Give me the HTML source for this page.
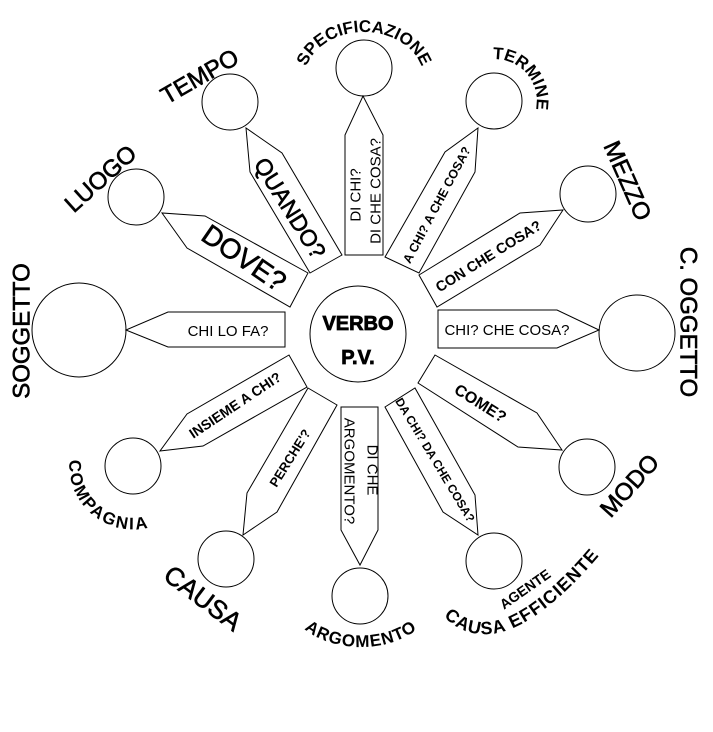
<!DOCTYPE html>
<html><head><meta charset="utf-8"><style>
html,body{margin:0;padding:0;background:#fff;}
svg{display:block;}
text{font-family:"Liberation Sans",sans-serif;fill:#000;}
</style></head><body>
<svg width="713" height="732" viewBox="0 0 713 732" xmlns="http://www.w3.org/2000/svg">
<defs>
<path id="pSpec" d="M 304 80 A 60 48 0 0 1 424 80"/>
<path id="pTerm" d="M 486 60 A 42 42 0 0 1 534 116"/>
<path id="pComp" d="M 73 444 A 64 64 0 0 0 165 521"/>
<path id="pArg" d="M 288 598 A 73 49 0 0 0 434 598"/>
<path id="pCE" d="M 434 605 Q 492 684 604 550"/>
</defs>
<g fill="#fff" stroke="#000" stroke-width="1">
<circle cx="358" cy="334" r="48"/>
<circle cx="364" cy="68" r="28"/>
<circle cx="230" cy="102" r="28"/>
<circle cx="494" cy="101" r="28"/>
<circle cx="136" cy="197" r="28"/>
<circle cx="588" cy="194" r="28"/>
<circle cx="79" cy="330" r="47"/>
<circle cx="637" cy="333" r="38"/>
<circle cx="133" cy="466" r="28"/>
<circle cx="587" cy="467" r="28"/>
<circle cx="226" cy="559" r="28"/>
<circle cx="360" cy="596" r="28"/>
<circle cx="494" cy="561" r="28"/>
<polygon points="345,255 345,135 363,96 383,135 383,255"/>
<polygon points="385,257 445,152 478,128 475,172 419,273"/>
<polygon points="419,275 520,213 563,210 540,245 437,307"/>
<polygon points="438,310 557,310 599,330 557,348 438,348"/>
<polygon points="285,312 168,312 126,330 168,347 285,347"/>
<polygon points="342,255 282,153 246,128 250,172 310,273"/>
<polygon points="308,273 205,216 162,213 187,248 290,307"/>
<polygon points="289,355 187,414 160,451 203,446 307,387"/>
<polygon points="308,388 247,493 243,535 277,512 337,405"/>
<polygon points="341,407 378,407 378,530 360,565 341,530"/>
<polygon points="385,407 415,388 475,495 478,535 443,512"/>
<polygon points="435,355 537,413 562,450 518,447 418,383"/>
</g>
<text x="358" y="330" font-size="20" font-weight="bold" text-anchor="middle" stroke="#000" stroke-width="0.8">VERBO</text>
<text x="358" y="364" font-size="20" font-weight="bold" text-anchor="middle" stroke="#000" stroke-width="0.8">P.V.</text>
<text transform="translate(356,195) rotate(-90)" font-size="15" text-anchor="middle" dominant-baseline="central">DI CHI?</text>
<text transform="translate(376,191) rotate(-90)" font-size="15" text-anchor="middle" dominant-baseline="central">DI CHE COSA?</text>
<text transform="translate(437,205) rotate(-62)" font-size="12.5" font-weight="bold" text-anchor="middle" dominant-baseline="central">A CHI? A CHE COSA?</text>
<text transform="translate(489,257) rotate(-32)" font-size="14.5" font-weight="bold" text-anchor="middle" dominant-baseline="central">CON CHE COSA?</text>
<text x="507" y="335" font-size="15" text-anchor="middle">CHI? CHE COSA?</text>
<text x="228" y="336" font-size="15" text-anchor="middle">CHI LO FA?</text>
<text transform="translate(290,208) rotate(58)" font-size="23" text-anchor="middle" dominant-baseline="central" stroke="#000" stroke-width="0.6">QUANDO?</text>
<text transform="translate(244,258) rotate(34.5)" font-size="28" text-anchor="middle" dominant-baseline="central" stroke="#000" stroke-width="0.6">DOVE?</text>
<text transform="translate(235,405) rotate(-33.7)" font-size="14" font-weight="bold" text-anchor="middle" dominant-baseline="central">INSIEME A CHI?</text>
<text transform="translate(290,458) rotate(-58)" font-size="13" font-weight="bold" text-anchor="middle" dominant-baseline="central">PERCHE'?</text>
<text transform="translate(372,470) rotate(90)" font-size="15" text-anchor="middle" dominant-baseline="central">DI CHE</text>
<text transform="translate(349,471) rotate(90)" font-size="15" text-anchor="middle" dominant-baseline="central">ARGOMENTO?</text>
<text transform="translate(435,460) rotate(59)" font-size="12" font-weight="bold" text-anchor="middle" dominant-baseline="central">DA CHI? DA CHE COSA?</text>
<text transform="translate(480,404) rotate(32)" font-size="16" font-weight="bold" text-anchor="middle" dominant-baseline="central">COME?</text>
<text font-size="17" font-weight="bold"><textPath href="#pSpec" startOffset="50%" text-anchor="middle">SPECIFICAZIONE</textPath></text>
<text font-size="17" font-weight="bold"><textPath href="#pTerm" startOffset="50%" text-anchor="middle">TERMINE</textPath></text>
<text font-size="17" font-weight="bold" letter-spacing="2"><textPath href="#pComp" startOffset="50%" text-anchor="middle">COMPAGNIA</textPath></text>
<text font-size="17" font-weight="bold" letter-spacing="1"><textPath href="#pArg" startOffset="50%" text-anchor="middle">ARGOMENTO</textPath></text>
<text font-size="18" font-weight="bold" letter-spacing="1"><textPath href="#pCE" startOffset="52%" text-anchor="middle">CAUSA EFFICIENTE</textPath></text>
<text transform="translate(525,589) rotate(-35)" font-size="14" font-weight="bold" text-anchor="middle" dominant-baseline="central">AGENTE</text>
<text transform="translate(200,77) rotate(-30)" font-size="24" text-anchor="middle" dominant-baseline="central" stroke="#000" stroke-width="0.6">TEMPO</text>
<text transform="translate(101,179) rotate(-42)" font-size="24" text-anchor="middle" dominant-baseline="central" stroke="#000" stroke-width="0.6">LUOGO</text>
<text transform="translate(627,181) rotate(66)" font-size="24" text-anchor="middle" dominant-baseline="central" stroke="#000" stroke-width="0.6">MEZZO</text>
<text transform="translate(22,331) rotate(-90)" font-size="24" text-anchor="middle" dominant-baseline="central" stroke="#000" stroke-width="0.6">SOGGETTO</text>
<text transform="translate(688,322) rotate(90)" font-size="24" text-anchor="middle" dominant-baseline="central" stroke="#000" stroke-width="0.6">C. OGGETTO</text>
<text transform="translate(630,486) rotate(-48)" font-size="24" text-anchor="middle" dominant-baseline="central" stroke="#000" stroke-width="0.6">MODO</text>
<text transform="translate(203,598) rotate(37)" font-size="26" text-anchor="middle" dominant-baseline="central" stroke="#000" stroke-width="0.6">CAUSA</text>
</svg>
</body></html>
